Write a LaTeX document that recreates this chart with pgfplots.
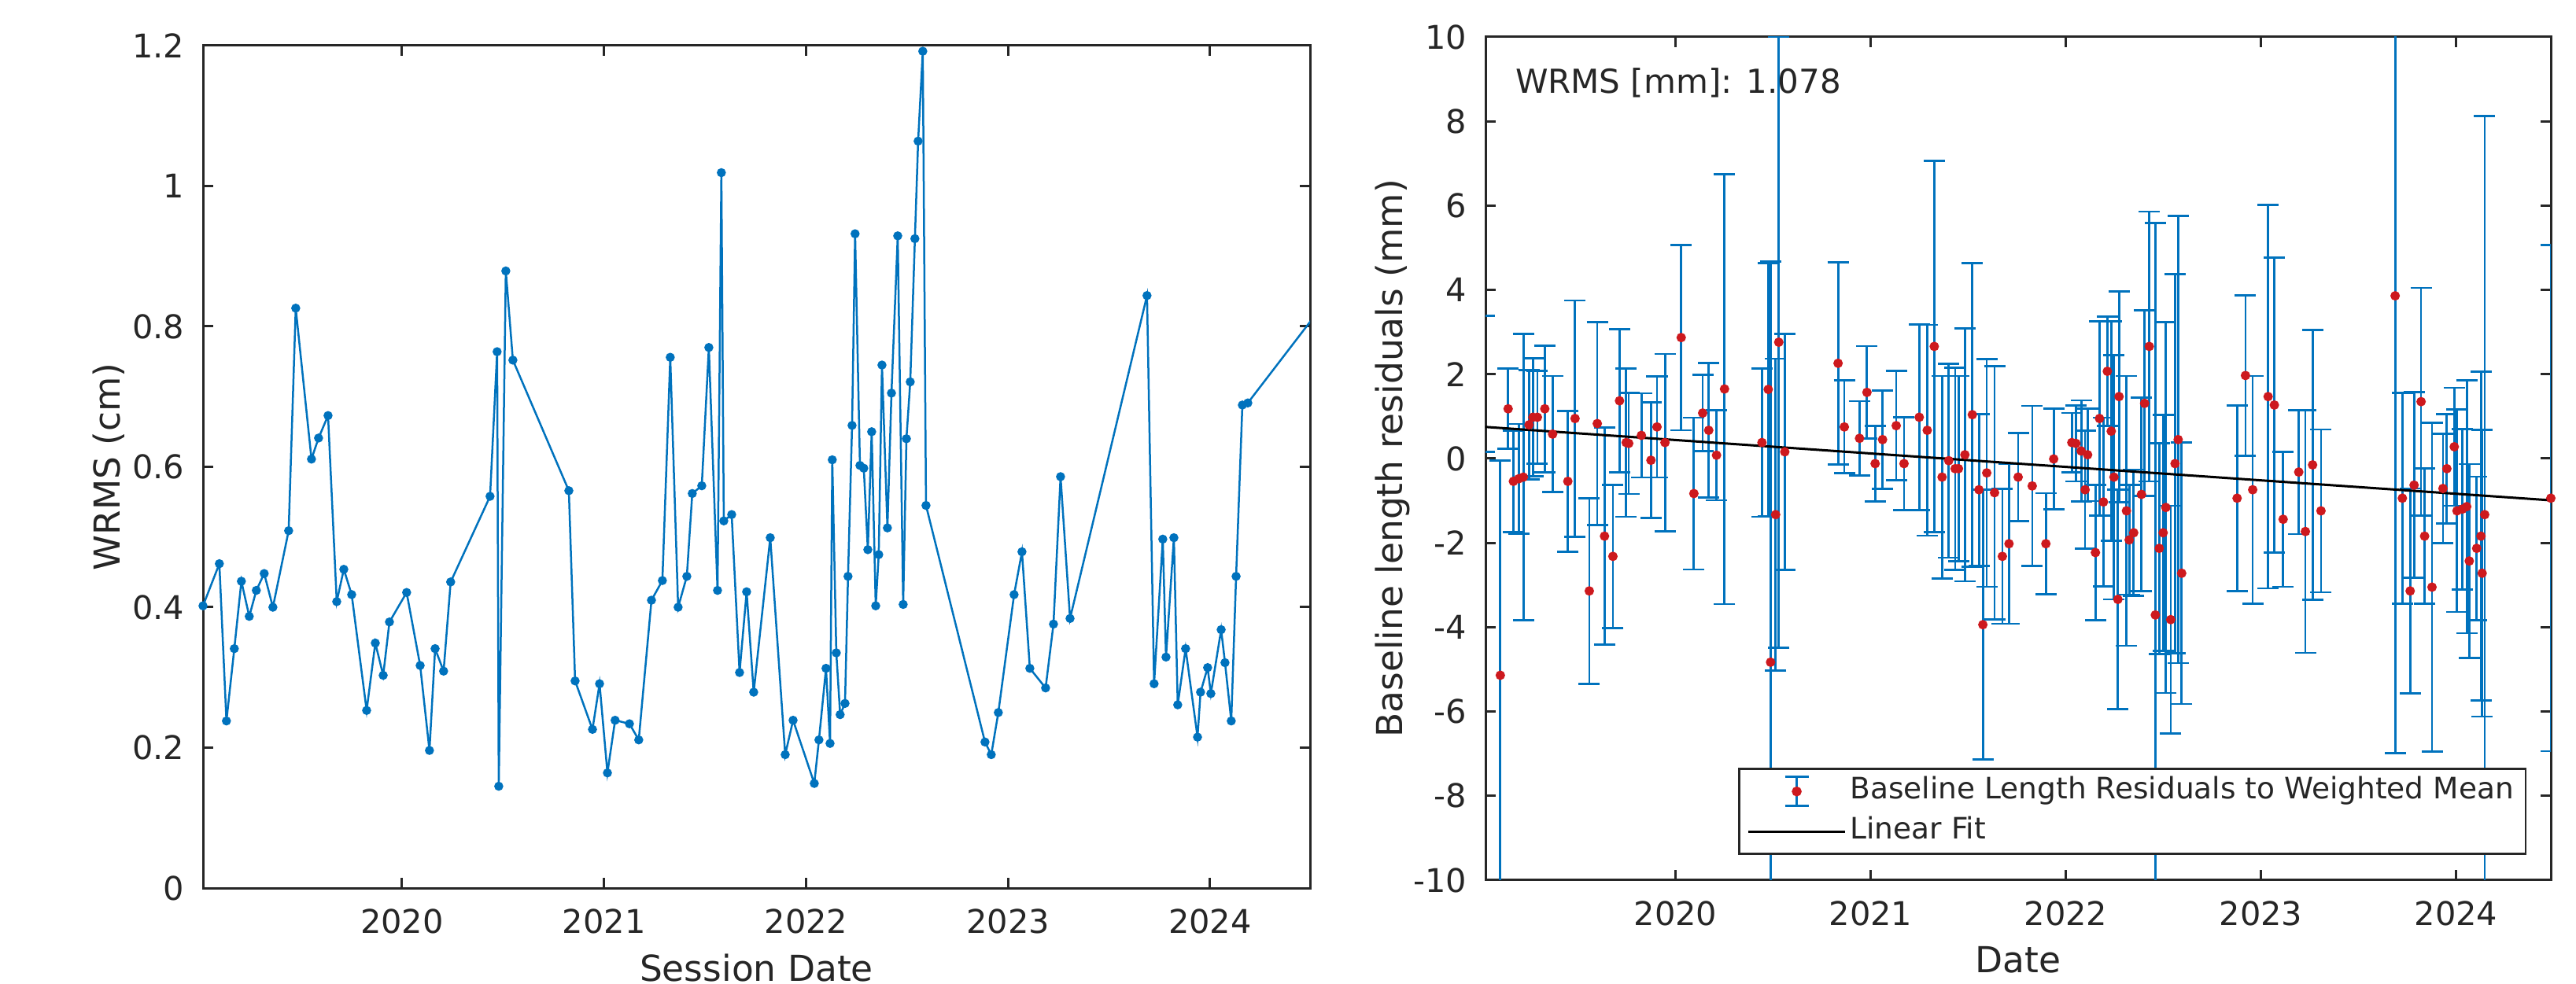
\documentclass[border=0pt]{standalone}
\usepackage{pgfplots}
\pgfplotsset{compat=1.18}
\usepackage{pgfplotstable}
\usepackage{fontspec}
\setmainfont{DejaVu Sans}
\definecolor{mblue}{RGB}{0,114,189}
\definecolor{mred}{RGB}{205,25,30}
\definecolor{axgray}{RGB}{38,38,38}
\newcommand\tickfont{\fontsize{8.3bp}{10bp}\selectfont}
\newcommand\labfont{\fontsize{9.1bp}{11bp}\selectfont}
\newcommand\legfont{\fontsize{7.5bp}{9bp}\selectfont}
\newcommand\annfont{\fontsize{8.4bp}{10bp}\selectfont}

\pgfplotstableread{
x y
2019.015 0.402
2019.096 0.462
2019.131 0.238
2019.170 0.341
2019.205 0.437
2019.244 0.387
2019.279 0.424
2019.318 0.448
2019.361 0.400
2019.439 0.509
2019.474 0.826
2019.552 0.611
2019.587 0.641
2019.634 0.673
2019.677 0.408
2019.712 0.454
2019.751 0.418
2019.825 0.253
2019.868 0.349
2019.907 0.303
2019.938 0.379
2020.023 0.421
2020.090 0.317
2020.136 0.196
2020.164 0.341
2020.206 0.309
2020.241 0.436
2020.436 0.558
2020.471 0.764
2020.479 0.145
2020.514 0.879
2020.549 0.752
2020.826 0.566
2020.857 0.295
2020.943 0.226
2020.978 0.291
2021.017 0.164
2021.055 0.239
2021.126 0.234
2021.172 0.211
2021.235 0.410
2021.289 0.438
2021.328 0.756
2021.367 0.400
2021.410 0.444
2021.437 0.562
2021.484 0.573
2021.519 0.770
2021.562 0.424
2021.581 1.019
2021.593 0.523
2021.632 0.532
2021.671 0.307
2021.706 0.422
2021.741 0.279
2021.823 0.499
2021.897 0.190
2021.936 0.239
2022.041 0.149
2022.064 0.211
2022.099 0.313
2022.119 0.206
2022.130 0.610
2022.150 0.335
2022.169 0.247
2022.193 0.263
2022.208 0.444
2022.228 0.659
2022.243 0.932
2022.267 0.602
2022.286 0.598
2022.306 0.482
2022.325 0.650
2022.345 0.402
2022.360 0.475
2022.376 0.745
2022.403 0.513
2022.423 0.705
2022.454 0.929
2022.481 0.404
2022.497 0.640
2022.516 0.721
2022.539 0.925
2022.555 1.064
2022.578 1.192
2022.594 0.545
2022.886 0.208
2022.917 0.190
2022.952 0.250
2023.030 0.418
2023.069 0.479
2023.108 0.313
2023.186 0.285
2023.225 0.376
2023.260 0.586
2023.307 0.384
2023.688 0.844
2023.723 0.291
2023.766 0.497
2023.782 0.329
2023.821 0.499
2023.840 0.261
2023.879 0.341
2023.938 0.215
2023.953 0.279
2023.988 0.314
2024.004 0.277
2024.055 0.368
2024.074 0.321
2024.105 0.238
2024.129 0.444
2024.160 0.688
2024.187 0.691
2024.499 0.808
}\wrmsdata

\pgfplotstableread{
x y e
2019.021 1.77 1.61
2019.102 -5.14 5.10
2019.142 1.18 0.95
2019.169 -0.54 1.20
2019.196 -0.48 1.30
2019.220 -0.44 3.40
2019.249 0.80 1.30
2019.269 0.98 1.40
2019.292 0.98 1.10
2019.330 1.18 1.50
2019.370 0.58 1.38
2019.448 -0.54 1.67
2019.485 0.95 2.80
2019.558 -3.14 2.20
2019.599 0.83 2.40
2019.636 -1.84 2.57
2019.679 -2.32 1.70
2019.713 1.37 1.70
2019.747 0.38 1.76
2019.760 0.36 1.20
2019.825 0.55 1.00
2019.874 -0.04 1.37
2019.905 0.75 1.20
2019.946 0.38 2.10
2020.029 2.87 2.20
2020.094 -0.83 1.80
2020.139 1.08 0.90
2020.170 0.67 1.60
2020.210 0.08 1.07
2020.251 1.65 5.10
2020.443 0.38 1.76
2020.475 1.64 3.00
2020.487 -4.83 9.50
2020.513 -1.33 3.70
2020.529 2.76 7.25
2020.560 0.16 2.80
2020.833 2.26 2.40
2020.865 0.75 1.10
2020.943 0.48 0.88
2020.981 1.57 1.10
2021.023 -0.12 0.90
2021.061 0.45 1.17
2021.131 0.78 1.30
2021.171 -0.12 1.10
2021.249 0.98 2.20
2021.290 0.67 2.50
2021.326 2.66 4.40
2021.366 -0.44 2.40
2021.400 -0.05 2.30
2021.433 -0.24 2.40
2021.450 -0.24 2.20
2021.483 0.09 3.00
2021.521 1.04 3.60
2021.555 -0.74 1.80
2021.575 -3.94 3.20
2021.595 -0.34 2.70
2021.635 -0.81 3.00
2021.675 -2.32 1.60
2021.709 -2.02 1.90
2021.756 -0.44 1.05
2021.828 -0.65 1.90
2021.898 -2.02 1.20
2021.938 -0.01 1.20
2022.031 0.38 0.70
2022.052 0.36 0.90
2022.079 0.18 1.20
2022.099 -0.74 1.40
2022.112 0.09 1.10
2022.152 -2.23 1.60
2022.173 0.95 2.30
2022.193 -1.03 2.00
2022.213 2.07 1.30
2022.233 0.65 2.60
2022.247 -0.44 2.90
2022.267 -3.34 2.60
2022.273 1.47 2.50
2022.311 -1.24 3.20
2022.325 -1.93 1.30
2022.348 -1.76 1.50
2022.388 -0.85 2.30
2022.404 1.31 2.20
2022.428 2.66 3.20
2022.459 -3.71 9.30
2022.479 -2.13 2.50
2022.499 -1.76 2.80
2022.513 -1.16 4.40
2022.538 -3.82 2.70
2022.560 -0.12 4.50
2022.576 0.45 5.30
2022.594 -2.72 3.10
2022.878 -0.94 2.20
2022.921 1.97 1.90
2022.958 -0.74 2.70
2023.037 1.47 4.55
2023.069 1.27 3.50
2023.114 -1.44 1.60
2023.194 -0.32 1.47
2023.228 -1.73 2.88
2023.265 -0.15 3.20
2023.308 -1.24 1.93
2023.688 3.86 10.85
2023.725 -0.94 2.50
2023.765 -3.14 2.43
2023.785 -0.63 2.20
2023.821 1.35 2.70
2023.839 -1.84 1.60
2023.877 -3.05 3.90
2023.933 -0.71 1.30
2023.953 -0.24 1.30
2023.991 0.28 1.40
2024.005 -1.24 2.40
2024.032 -1.20 1.90
2024.055 -1.14 3.00
2024.068 -2.43 2.30
2024.106 -2.13 1.70
2024.128 -1.84 3.90
2024.134 -2.72 3.40
2024.147 -1.33 9.45
2024.486 -0.94 6.00
}\resdata

\pgfplotsset{
  common/.style={
    scale only axis,
    anchor=south west,
    tick align=inside,
    major tick length=2.6bp,
    axis line style={axgray, line width=0.6bp},
    every tick/.style={axgray, line width=0.6bp},
    xtick={2020,2021,2022,2023,2024},
    xticklabels={2020,2021,2022,2023,2024},
    xticklabel style={font=\tickfont, text=axgray, anchor=base, yshift=-11.5bp},
    yticklabel style={font=\tickfont, text=axgray, anchor=east, inner sep=0pt, xshift=-4.6bp},
    every axis x label/.style={at={(axis description cs:0.5,0)}, yshift=-23.6bp, anchor=base, font=\labfont, text=axgray},
    every axis y label/.style={at={(axis description cs:0,0.5)}, xshift=-21.2bp, rotate=90, anchor=base, font=\labfont, text=axgray},
  }
}

\begin{document}
\begin{tikzpicture}
\path[use as bounding box] (0,0) rectangle (654.8bp,250.2bp);

\begin{axis}[common,
  at={(51.6bp,24.4bp)},
  width=281.4bp, height=214.2bp,
  xmin=2019.015, xmax=2024.495,
  ymin=0, ymax=1.2,
  ytick={0,0.2,0.4,0.6,0.8,1,1.2},
  yticklabels={0,0.2,0.4,0.6,0.8,1,1.2},
  xlabel={Session Date},
  ylabel={WRMS (cm)},
  clip marker paths=false,
]
\addplot[color=mblue, line width=0.5bp, mark=*, mark size=1bp, mark options={fill=mblue, draw=mblue, line width=0.3bp}] table[x=x, y=y] {\wrmsdata};
\end{axis}

\begin{axis}[common,
  at={(377.6bp,26.4bp)},
  width=270.8bp, height=214.4bp,
  xmin=2019.026, xmax=2024.486,
  ymin=-10, ymax=10,
  ytick={-10,-8,-6,-4,-2,0,2,4,6,8,10},
  yticklabels={-10,-8,-6,-4,-2,0,2,4,6,8,10},
  xlabel={Date},
  ylabel={Baseline length residuals (mm)},
  legend cell align=left,
  legend style={at={(axis description cs:1,0)}, anchor=south east, xshift=-6.2bp, yshift=6.4bp,
    font=\legfont, text=axgray, draw=axgray, line width=0.5bp, fill=white,
    inner xsep=2bp, inner ysep=1bp, row sep=0.8bp,
    nodes={inner sep=1bp, text height=5.6bp, text depth=1.8bp}},
]
\addplot[only marks, mark=*, mark size=1bp, color=mred, mark options={fill=mred, draw=mred},
  legend image code/.code={
    \draw[mblue, line width=0.55bp] (12.3bp,-3.7bp) -- (12.3bp,3.7bp);
    \draw[mblue, line width=0.55bp] (9.3bp,-3.7bp) -- (15.3bp,-3.7bp);
    \draw[mblue, line width=0.55bp] (9.3bp,3.7bp) -- (15.3bp,3.7bp);
    \fill[mred] (12.3bp,0bp) circle[radius=1bp];
    \path[draw=none] (0bp,0bp) -- (24.6bp,0bp);},
  error bars/.cd, y dir=both, y explicit,
  error bar style={color=mblue, line width=0.55bp},
  error mark=-,
  error mark options={rotate=90, color=mblue, mark size=2.7bp, line width=0.55bp}]
  table[x=x, y=y, y error=e] {\resdata};
\addlegendentry{Baseline Length Residuals to Weighted Mean}
\addplot[black, line width=0.6bp,
  legend image code/.code={\draw[black, line width=0.6bp] (0bp,0bp) -- (24.6bp,0bp);}]
  coordinates {(2019.026,0.75) (2024.486,-0.99)};
\addlegendentry{Linear Fit}
\node[anchor=base west, font=\annfont, text=axgray, inner sep=0pt, xshift=7.4bp, yshift=-14.3bp] at (rel axis cs:0,1) {WRMS [mm]: 1.078};
\end{axis}
\end{tikzpicture}
\end{document}
